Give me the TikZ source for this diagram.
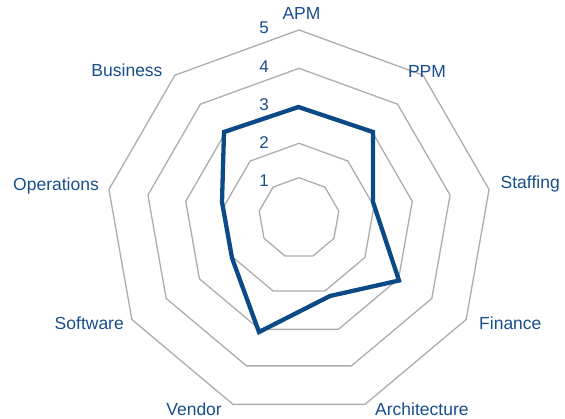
\documentclass[tikz,border=0pt]{standalone}
\usepackage{fontspec}
\setmainfont{Liberation Sans}
\definecolor{serieblue}{RGB}{12,74,135}
\definecolor{labelblue}{RGB}{24,78,140}
\definecolor{gridgray}{RGB}{172,172,172}
\begin{document}
\begin{tikzpicture}[x=1pt,y=-1pt,
  gridline/.style={draw=gridgray,line width=1.3pt,line join=miter},
  serie/.style={draw=serieblue,line width=4.3pt,line join=miter},
  lbl/.style={text=labelblue,font=\fontsize{17.5}{17.5}\selectfont,inner sep=0pt},
  num/.style={text=labelblue,font=\fontsize{17}{17}\selectfont,inner sep=0pt,anchor=base}]
\useasboundingbox (0,0) rectangle (565,418);
% grid polygons
\foreach \R/\cy in {40.4/218.1, 76.1/219.4, 115/221.3, 153.4/221.7, 193/223}{
  \draw[gridline] ({299+\R*cos(90)},{\cy-\R*sin(90)})
    \foreach \a in {50,10,-30,-70,-110,-150,-190,-230}{ -- ({299+\R*cos(\a)},{\cy-\R*sin(\a)}) } -- cycle;
}
% data series
\coordinate (dAPM) at (298.5,107);
\coordinate (dPPM) at (373,132);
\coordinate (dSta) at (373,202);
\coordinate (dFin) at (399,280.5);
\coordinate (dArc) at (330,296);
\coordinate (dVen) at (259,332);
\coordinate (dSof) at (232,258);
\coordinate (dOpe) at (222,202);
\coordinate (dBus) at (224,132);
\draw[serie] (dAPM) -- (dPPM) -- (dSta) -- (dFin) -- (dArc) -- (dVen) -- (dSof) -- (dOpe) -- (dBus) -- cycle;
% axis labels
\node[lbl,anchor=base] (lAPM) at (301.5,19) {APM};
\node[lbl,anchor=base] (lPPM) at (427,77) {PPM};
\node[lbl,anchor=base west] (lSta) at (500.5,188.5) {Staffing};
\node[lbl,anchor=base west] (lFin) at (479,329) {Finance};
\node[lbl,anchor=base west] (lArc) at (375,415) {Architecture};
\node[lbl,anchor=base east] (lVen) at (222,415) {Vendor};
\node[lbl,anchor=base east] (lSof) at (124,329.5) {Software};
\node[lbl,anchor=base east] (lOpe) at (99,190.5) {Operations};
\node[lbl,anchor=base] (lBus) at (127,76) {Business};
% scale numbers
\node[num] (n5) at (264,33.5) {5};
\node[num] (n4) at (264,72.7) {4};
\node[num] (n3) at (264,110.7) {3};
\node[num] (n2) at (264,148.7) {2};
\node[num] (n1) at (264,186.7) {1};
\end{tikzpicture}
\end{document}
